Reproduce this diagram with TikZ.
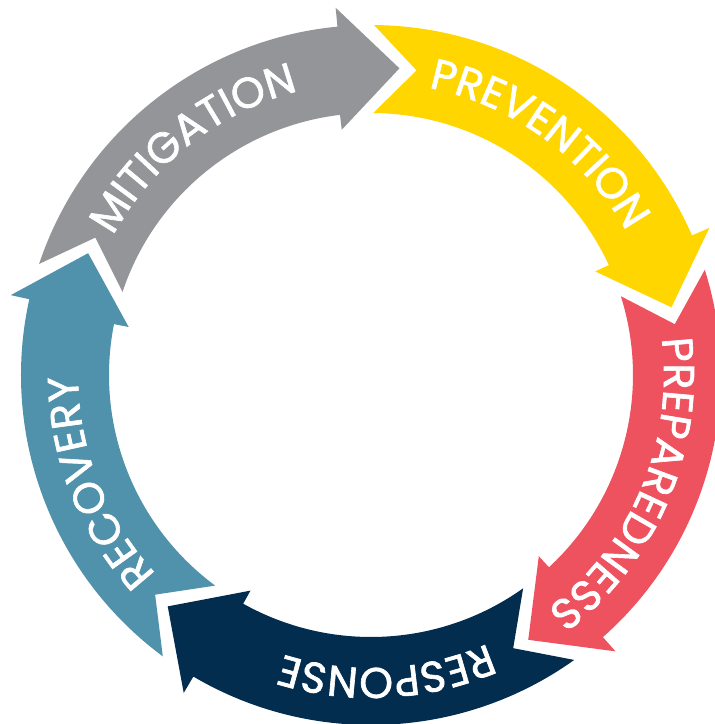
\documentclass[tikz,border=0pt]{standalone}
\usepackage{xcolor}
\usepackage{fontspec}
\usetikzlibrary{decorations.text}
\newfontfamily\cyclefont{Poppins}[FakeBold=1.5]
\definecolor{mitgray}{RGB}{147,149,152}
\definecolor{prevyellow}{RGB}{255,214,0}
\definecolor{prepred}{RGB}{239,82,95}
\definecolor{respnavy}{RGB}{3,45,79}
\definecolor{recteal}{RGB}{80,146,171}
\tikzset{
    cyclelabel/.style={decorate,decoration={text along path,text align=center,
        text color=white,text={|\cyclefont\fontsize{43}{43}\selectfont|#1}}}
}

\begin{document}
\begin{tikzpicture}
    \useasboundingbox (-371pt,-349pt) rectangle (344pt,375pt);

    % five arrows round the circle, clockwise
    \foreach \k/\col in {0/mitgray,1/prevyellow,2/prepred,3/respnavy,4/recteal}{
        \pgfmathsetmacro{\ta}{161.5-72*\k} % tail corners
        \pgfmathsetmacro{\tn}{\ta-8}       % tail notch
        \pgfmathsetmacro{\bo}{95.5-72*\k}  % outer barb
        \pgfmathsetmacro{\bi}{96.8-72*\k}  % inner barb
        \pgfmathsetmacro{\tp}{84.7-72*\k}  % tip
        \fill[\col] (\ta:350pt) arc[start angle=\ta,end angle=\bo,radius=350pt]
            -- (\bo:369pt) -- (\tp:308pt) -- (\bi:247pt) -- (\bi:262pt)
            arc[start angle=\bi,end angle=\ta,radius=262pt] -- (\tn:308pt) -- cycle;
    }

    % labels along the arrows
    \foreach \mid/\word in {128/MITIGATION,54/PREVENTION,-23/PREPAREDNESS,-87/RESPONSE,201.5/RECOVERY}{
        \path[cyclelabel=\word] (\mid+55:293pt) arc[start angle=\mid+55,end angle=\mid-55,radius=293pt];
    }
\end{tikzpicture}
\end{document}
